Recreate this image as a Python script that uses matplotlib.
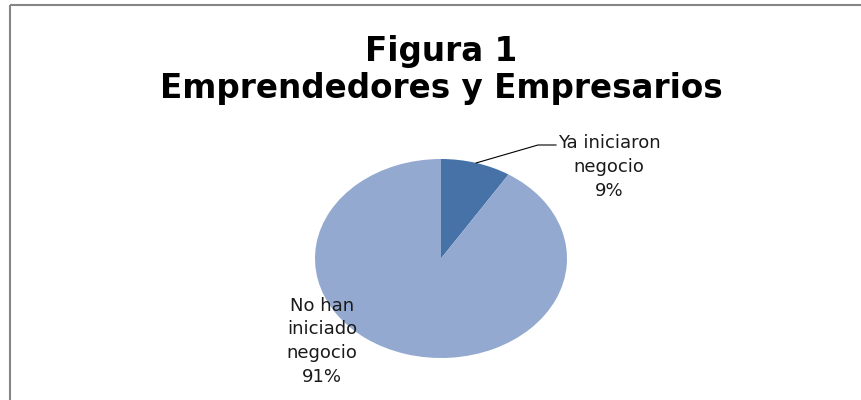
import matplotlib
matplotlib.use("Agg")
import matplotlib.pyplot as plt
import numpy as np
from matplotlib.patches import Rectangle

# Data
categories = ["Ya iniciaron\nnegocio", "No han\niniciado\nnegocio"]
values = [9, 91]
colors = ["#4672A8", "#93A9CF"]

title_lines = ["Figura 1", "Emprendedores y Empresarios"]

W, H = 861, 400
fig = plt.figure(figsize=(W / 100, H / 100), dpi=100)
fig.patch.set_facecolor("white")

# Pie bounding box (pixels); the pie is drawn as an ellipse
px0, py0, px1, py1 = 315, 159, 567, 358
pie_ax = fig.add_axes([px0 / W, 1 - py1 / H, (px1 - px0) / W, (py1 - py0) / H])
wedges, _ = pie_ax.pie(values, colors=colors, startangle=90, counterclock=False,
                       radius=1, wedgeprops=dict(linewidth=0))
pie_ax.set_aspect("auto")
pie_ax.set_xlim(-1, 1)
pie_ax.set_ylim(-1, 1)
pie_ax.axis("off")

# Overlay axes in pixel coordinates for text, border and leader line
over = fig.add_axes([0, 0, 1, 1])
over.set_xlim(0, W)
over.set_ylim(H, 0)
over.axis("off")
over.patch.set_alpha(0)

# Chart border
over.add_patch(Rectangle((9.5, 4.5), 900, 500, fill=False, edgecolor="#868686",
                         linewidth=1.5, zorder=5))

font = "DejaVu Sans"
over.text(441, 61, title_lines[0], ha="center", va="baseline", fontsize=23.5,
          fontweight="bold", family=font)
over.text(441, 98, title_lines[1], ha="center", va="baseline", fontsize=23.5,
          fontweight="bold", family=font)

total = sum(values)
pcts = [f"{round(v / total * 100)}%" for v in values]

# Leader line from the small slice to its label
cx, cy = (px0 + px1) / 2, (py0 + py1) / 2
rx, ry = (px1 - px0) / 2, (py1 - py0) / 2
w0 = wedges[0]
mid = np.deg2rad((w0.theta1 + w0.theta2) / 2)
sx, sy = cx + rx * np.cos(mid), cy - ry * np.sin(mid)
over.plot([sx, 538, 556], [sy, 145, 145], color="black", linewidth=0.8)


def label(x, y0, lines, step=23.5):
    for i, s in enumerate(lines):
        over.text(x, y0 + i * step, s, ha="center", va="baseline", fontsize=13,
                  family=font, color="#1a1a1a")


label(609, 148, categories[0].split("\n") + [pcts[0]], step=24)
label(322, 311, categories[1].split("\n") + [pcts[1]])

fig.savefig("out.png", dpi=100, facecolor="white")
